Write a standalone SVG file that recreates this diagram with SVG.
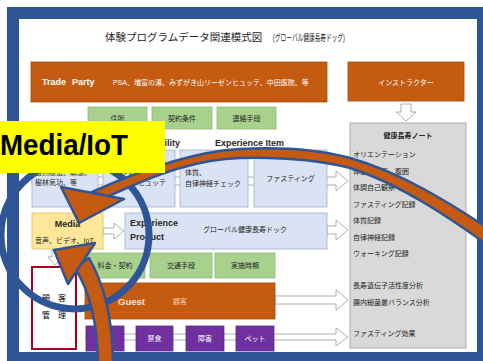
<svg xmlns="http://www.w3.org/2000/svg" width="483" height="361" viewBox="0 0 483 361">
  <style>
    .jp { font-family: "Liberation Sans", "Noto Sans CJK JP", sans-serif; font-size: 7px; fill: #262626; }
    .en { font-family: "Liberation Sans", "Noto Sans CJK JP", sans-serif; font-weight: bold; fill: #262626; }
    .white { fill: #ffffff; }
    .orange { fill: #C55A11; stroke: #A84B0C; stroke-width: 0.8; }
    .green { fill: #A9D18E; stroke: #8DB872; stroke-width: 0.8; }
    .blue { fill: #DAE3F3; stroke: #9DAECF; stroke-width: 0.8; }
    .purple { fill: #7030A0; stroke: #5E2887; stroke-width: 0.8; }
    .hollow { fill: #ffffff; stroke: #A6A6A6; stroke-width: 0.9; }
    .big { fill: #C55A11; stroke: #2F5597; stroke-width: 2.5; stroke-linejoin: round; }
  </style>

  <!-- frame -->
  <rect x="0" y="0" width="483" height="361" fill="#ffffff"/>
  <rect x="7" y="7" width="482" height="360" fill="#2F5597"/>
  <rect x="19" y="19" width="458" height="333" fill="#ffffff"/>

  <!-- title -->
  <text class="jp" x="105" y="41" style="font-size:10.5px">体験プログラムデータ関連模式図</text>
  <text class="jp" x="273" y="41" style="font-size:9.5px" textLength="72" lengthAdjust="spacingAndGlyphs">(グローバル健康長寿ドッグ)</text>

  <!-- connectors (hollow block arrows) -->
  <g id="connectors">
    <path class="hollow" d="M401,104 H411 V112 H416 L406,121 L396,112 H401 Z"/>
    <path class="hollow" d="M32,177 H336 V171 L348,181 L336,191 V185 H32 Z"/>
    <path class="hollow" d="M103,228 H114 V223 L124,231 L114,239 V234 H103 Z"/>
    <path class="hollow" d="M327,226 H336 V220 L348,230 L336,240 V234 H327 Z"/>
    <path class="hollow" d="M52,250 H58 V257 H62 L55,265 L48,257 H52 Z"/>
    <path class="hollow" d="M275,296 H336 V290 L348,300 L336,310 V304 H275 Z"/>
    <path class="hollow" d="M86,334 H336 V328 L348,337 L336,346 V340 H86 Z"/>
  </g>

  <g id="trade-party">
    <rect class="orange" x="31" y="62" width="296" height="40"/>
    <text class="en white" x="42" y="85" style="font-size:9px">Trade<tspan x="72">Party</tspan></text>
    <text class="jp white" x="113" y="84.5">PSA、増富の湯、みずがき山リーゼンヒュッテ、中田医院、等</text>
  </g>

  <g id="instructor">
    <rect class="orange" x="348" y="62" width="116" height="39"/>
    <text class="jp white" x="406" y="84.5" text-anchor="middle">インストラクター</text>
  </g>

  <g id="address"><rect class="green" x="88" y="107" width="59" height="22"/><text class="jp" x="117.5" y="120.5" text-anchor="middle">住所</text></g>
  <g id="contract-terms"><rect class="green" x="152" y="107" width="60" height="22"/><text class="jp" x="182" y="120.5" text-anchor="middle">契約条件</text></g>
  <g id="contact"><rect class="green" x="217" y="107" width="59" height="22"/><text class="jp" x="246.5" y="120.5" text-anchor="middle">連絡手段</text></g>

  <text class="en" x="180" y="146" text-anchor="end" style="font-size:9px">Facility</text>
  <text class="en" x="215" y="146" style="font-size:9px">Experience Item</text>

  <g id="facility-nature">
    <rect class="blue" x="32" y="150" width="66" height="57"/>
    <text class="jp" x="35" y="175">自然療法、瞑想、</text>
    <text class="jp" x="35" y="185">樹林気功、等</text>
  </g>
  <g id="facility-hutte">
    <rect class="blue" x="103" y="150" width="72" height="57"/>
    <text class="jp" x="120" y="175">みずがき山リー</text>
    <text class="jp" x="124" y="185">ゼンヒュッテ</text>
  </g>
  <g id="item-check">
    <rect class="blue" x="180" y="150" width="68" height="57"/>
    <text class="jp" x="185" y="175">体質、</text>
    <text class="jp" x="185" y="186">自律神経チェック</text>
  </g>
  <g id="item-fasting">
    <rect class="blue" x="254" y="150" width="73" height="57"/>
    <text class="jp" x="290.5" y="181" text-anchor="middle">ファスティング</text>
  </g>

  <g id="health-note">
    <rect x="350" y="123" width="116" height="225" fill="#D9D9D9" stroke="#A6A6A6" stroke-width="0.9"/>
    <text class="jp" x="408" y="138" text-anchor="middle" style="font-weight:bold">健康長寿ノート</text>
    <text class="jp" x="353" y="157">オリエンテーション</text>
    <text class="jp" x="353" y="174">体重、血圧、腹囲</text>
    <text class="jp" x="353" y="190">体調自己観察</text>
    <text class="jp" x="353" y="206.5">ファスティング記録</text>
    <text class="jp" x="353" y="222.5">体質記録</text>
    <text class="jp" x="353" y="239.5">自律神経記録</text>
    <text class="jp" x="353" y="255.5">ウォーキング記録</text>
    <text class="jp" x="353" y="287.5">長寿遺伝子活性度分析</text>
    <text class="jp" x="353" y="305">腸内細菌叢バランス分析</text>
    <text class="jp" x="353" y="336">ファスティング効果</text>
  </g>

  <g id="media">
    <rect x="32" y="213" width="71" height="36" fill="#FFE699" stroke="#D9BD6A" stroke-width="0.8"/>
    <text class="en" x="67.5" y="227" text-anchor="middle" style="font-size:9px">Media</text>
    <text class="jp" x="35" y="243">音声、ビデオ、IoT</text>
  </g>

  <g id="experience-product">
    <rect class="blue" x="125" y="213" width="202" height="36"/>
    <text class="en" x="130" y="226" style="font-size:9px">Experience</text>
    <text class="en" x="130" y="239.5" style="font-size:9px">Product</text>
    <text class="jp" x="203" y="232">グローバル健康長寿ドック</text>
  </g>

  <g id="fee"><rect class="green" x="85" y="253" width="60" height="25"/><text class="jp" x="115" y="268" text-anchor="middle">料金・契約</text></g>
  <g id="transport"><rect class="green" x="150" y="253" width="62" height="25"/><text class="jp" x="181" y="268" text-anchor="middle">交通手段</text></g>
  <g id="period"><rect class="green" x="215" y="253" width="60" height="25"/><text class="jp" x="245" y="268" text-anchor="middle">実施時期</text></g>

  <g id="customer-management">
    <rect x="32" y="267" width="44" height="82" fill="#ffffff" stroke="#A50021" stroke-width="2"/>
    <text class="jp" x="46" y="301" text-anchor="middle" style="font-size:8px;fill:#000">顧</text>
    <text class="jp" x="62" y="301" text-anchor="middle" style="font-size:8px;fill:#000">客</text>
    <text class="jp" x="46" y="318" text-anchor="middle" style="font-size:8px;fill:#000">管</text>
    <text class="jp" x="62" y="318" text-anchor="middle" style="font-size:8px;fill:#000">理</text>
  </g>

  <g id="guest">
    <rect class="orange" x="85" y="283" width="190" height="36"/>
    <text class="en" x="118" y="304.5" style="font-size:9.5px;fill:#FBE5D6">Guest</text>
    <text class="jp" x="173" y="303.5" style="fill:#F8CBAD">顧客</text>
  </g>

  <g id="guest-type-1"><rect class="purple" x="86" y="326" width="38" height="25"/></g>
  <g id="fasting-food"><rect class="purple" x="136" y="326" width="37" height="25"/><text class="jp white" x="154.5" y="341" text-anchor="middle">禁食</text></g>
  <g id="disability"><rect class="purple" x="186" y="326" width="38" height="25"/><text class="jp white" x="205" y="341" text-anchor="middle">障害</text></g>
  <g id="pet"><rect class="purple" x="236" y="326" width="38" height="25"/><text class="jp white" x="255" y="341" text-anchor="middle">ペット</text></g>

  <!-- cycle ring -->
  <circle cx="75" cy="235" r="74" fill="none" stroke="#2F5597" stroke-width="7"/>

  <!-- curved arrow from the right into Media -->
  <g id="arrow-in">
    <path class="big" d="M489,229 C450,203 400,172 350,158 C320,150 280,147 240,149 C200,151 150,166 92,192 L107,197 C160,172 200,159 240,158 C280,157 318,160 350,168 C400,184 450,218 489,246 Z"/>
    <path class="big" d="M79,223 L61,187 L124,199 Z"/>
  </g>

  <!-- curved arrow from below into Media -->
  <g id="arrow-up">
    <path class="big" d="M98,366 C98,322 90,292 75,268 L89,258 C104,284 113,320 113,366 Z"/>
    <path class="big" d="M54,250 L95,243 L68,284 Z"/>
  </g>

  <!-- caption -->
  <g id="caption">
    <rect x="0" y="121" width="165" height="52" fill="#FFFF00"/>
    <text x="0" y="155" font-family="Liberation Sans, Arial, sans-serif" font-weight="bold" font-size="30" fill="#000" textLength="128" lengthAdjust="spacingAndGlyphs">Media/IoT</text>
  </g>
</svg>
